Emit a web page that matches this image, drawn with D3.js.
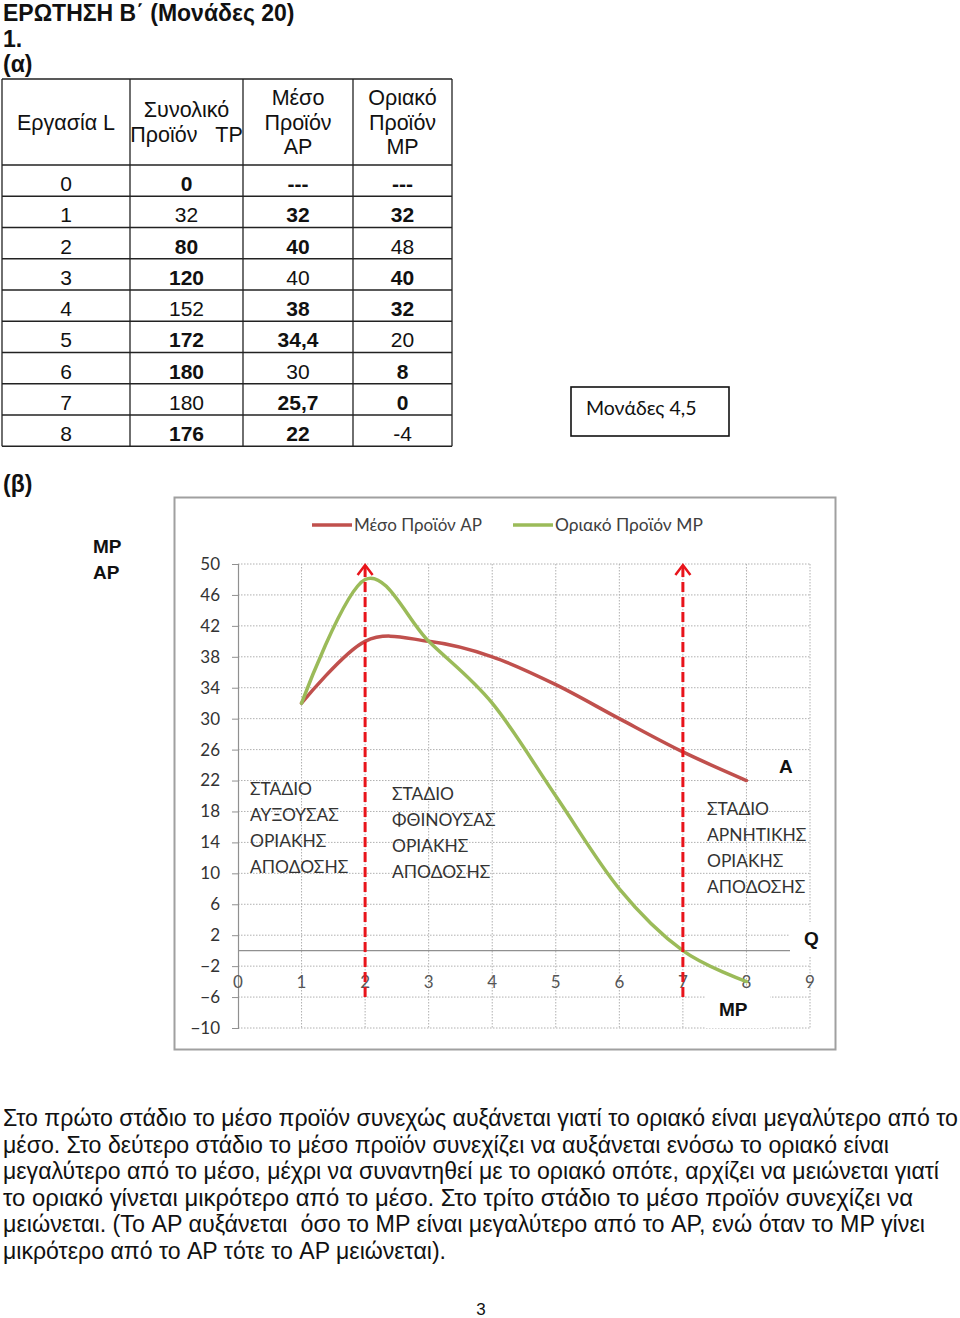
<!DOCTYPE html>
<html><head><meta charset="utf-8">
<script src="https://cdn.jsdelivr.net/npm/d3@7"></script>
<style>body{margin:0;background:#fff} svg{display:block}</style>
</head><body>
<svg id="c" width="960" height="1318"></svg>
<script>
// ---------- DATA ----------
const headers = [["Εργασία L"], ["Συνολικό", "Προϊόν   TP"], ["Μέσο", "Προϊόν", "AP"], ["Οριακό", "Προϊόν", "MP"]];
const laborCol = ["0", "1", "2", "3", "4", "5", "6", "7", "8"];
const tpCol = ["0", "32", "80", "120", "152", "172", "180", "180", "176"];
const apCol = ["---", "32", "40", "40", "38", "34,4", "30", "25,7", "22"];
const mpCol = ["---", "32", "48", "40", "32", "20", "8", "0", "-4"];
// bold formatting of table cells (per column)
const boldTP = [1, 0, 1, 1, 0, 1, 1, 0, 1];
const boldAP = [1, 1, 1, 0, 1, 1, 0, 1, 1];
const boldMP = [1, 1, 0, 1, 1, 0, 1, 1, 0];

const labor = [1, 2, 3, 4, 5, 6, 7, 8];
const apValues = [32, 40, 40, 38, 34.4, 30, 25.7, 22];
const mpValues = [32, 48, 40, 32, 20, 8, 0, -4];
const xTicks = [0, 1, 2, 3, 4, 5, 6, 7, 8, 9];
const yTicks = [50, 46, 42, 38, 34, 30, 26, 22, 18, 14, 10, 6, 2, -2, -6, -10];
const stageBounds = [2, 7];
const seriesNames = ["Μέσο Προϊόν AP", "Οριακό Προϊόν MP"];
const stageTexts = [
  ["ΣΤΑΔΙΟ", "ΑΥΞΟΥΣΑΣ", "ΟΡΙΑΚΗΣ", "ΑΠΟΔΟΣΗΣ"],
  ["ΣΤΑΔΙΟ", "ΦΘΙΝΟΥΣΑΣ", "ΟΡΙΑΚΗΣ", "ΑΠΟΔΟΣΗΣ"],
  ["ΣΤΑΔΙΟ", "ΑΡΝΗΤΙΚΗΣ", "ΟΡΙΑΚΗΣ", "ΑΠΟΔΟΣΗΣ"]
];
const paragraphLines = [
  "Στο πρώτο στάδιο το μέσο προϊόν συνεχώς αυξάνεται γιατί το οριακό είναι μεγαλύτερο από το",
  "μέσο. Στο δεύτερο στάδιο το μέσο προϊόν συνεχίζει να αυξάνεται ενόσω το οριακό είναι",
  "μεγαλύτερο από το μέσο, μέχρι να συναντηθεί με το οριακό οπότε, αρχίζει να μειώνεται γιατί",
  "το οριακό γίνεται μικρότερο από το μέσο. Στο τρίτο στάδιο το μέσο προϊόν συνεχίζει να",
  "μειώνεται. (Το AP αυξάνεται  όσο το MP είναι μεγαλύτερο από το AP, ενώ όταν το MP γίνει",
  "μικρότερο από το AP τότε το AP μειώνεται)."
];

// ---------- LAYOUT ----------
const svg = d3.select("#c");
const ARIAL = "'Liberation Sans', Arial, sans-serif";
const CAL = "Lato, 'Open Sans', sans-serif";
svg.append("rect").attr("width", 960).attr("height", 1318).attr("fill", "#fff");

// Titles
const titles = [["ΕΡΩΤΗΣΗ Β΄ (Μονάδες 20)", 20.5], ["1.", 47], ["(α)", 72], ["(β)", 492]];
titles.forEach(t => svg.append("text").attr("x", 3).attr("y", t[1]).attr("font-family", ARIAL)
  .attr("font-weight", "bold").attr("font-size", 23).attr("fill", "#111").text(t[0]));

// Table
const colX = [2, 130, 243, 353, 452];
const tTop = 79, hBottom = 165, rowH = 31.25;
const nRows = laborCol.length;
const tg = svg.append("g");
const tBottom = hBottom + rowH * nRows;
colX.forEach(x => tg.append("line").attr("x1", x).attr("x2", x).attr("y1", tTop).attr("y2", tBottom)
  .attr("stroke", "#222").attr("stroke-width", 1.3));
[tTop, hBottom].concat(d3.range(1, nRows + 1).map(i => hBottom + rowH * i)).forEach(y =>
  tg.append("line").attr("x1", colX[0]).attr("x2", colX[4]).attr("y1", y).attr("y2", y)
    .attr("stroke", "#222").attr("stroke-width", 1.3));
headers.forEach((lines, c) => {
  const cx = (colX[c] + colX[c + 1]) / 2;
  lines.forEach((t, j) => {
    const cy = 122 + (j - (lines.length - 1) / 2) * 24.5;
    tg.append("text").attr("x", cx).attr("y", cy + 7.5).attr("text-anchor", "middle")
      .attr("font-family", ARIAL).attr("font-size", 21.5).attr("fill", "#111")
      .style("white-space", "pre").text(t);
  });
});
const cols = [laborCol, tpCol, apCol, mpCol];
const bolds = [laborCol.map(() => 0), boldTP, boldAP, boldMP];
cols.forEach((col, c) => {
  const cx = (colX[c] + colX[c + 1]) / 2;
  col.forEach((t, r) => {
    const cy = hBottom + rowH * r + 18.5;
    tg.append("text").attr("x", cx).attr("y", cy + 7.5).attr("text-anchor", "middle")
      .attr("font-family", ARIAL).attr("font-size", 21).attr("fill", "#111")
      .attr("font-weight", bolds[c][r] ? "bold" : "normal").text(t);
  });
});

// Units box
svg.append("rect").attr("x", 571).attr("y", 387).attr("width", 158).attr("height", 49)
  .attr("fill", "none").attr("stroke", "#111").attr("stroke-width", 1.6);
svg.append("text").attr("x", 586).attr("y", 415).attr("font-family", CAL).attr("font-size", 19.5)
  .attr("fill", "#111").text("Μονάδες 4,5");

// ---------- CHART ----------
svg.append("rect").attr("x", 174.5).attr("y", 497.5).attr("width", 661).attr("height", 552)
  .attr("fill", "#fff").attr("stroke", "#a0a0a0").attr("stroke-width", 2);

const x = d3.scaleLinear().domain([0, 9]).range([238, 810]);
const y = d3.scaleLinear().domain([-10, 50]).range([1028, 564]);
const cg = svg.append("g");

// horizontal gridlines
yTicks.forEach(v => {
  cg.append("line").attr("x1", x(0)).attr("x2", x(9)).attr("y1", y(v)).attr("y2", y(v))
    .attr("stroke", "#b0b0b0").attr("stroke-width", 1).attr("stroke-dasharray", "1.5,1.5");
});
// vertical gridlines
xTicks.filter(v => v > 0).forEach(v => {
  cg.append("line").attr("x1", x(v)).attr("x2", x(v)).attr("y1", y(50)).attr("y2", y(-10))
    .attr("stroke", "#b0b0b0").attr("stroke-width", 1).attr("stroke-dasharray", "1.5,1.5");
});
// y axis
const yAxis = d3.axisLeft(y).tickValues(yTicks).tickSize(6).tickPadding(12).tickFormat(d3.format("d"));
const ya = cg.append("g").attr("transform", `translate(${x(0)},0)`).call(yAxis);
ya.select(".domain").attr("stroke", "#909090").attr("stroke-width", 1.2);
ya.selectAll(".tick line").attr("stroke", "#909090");
ya.selectAll(".tick text").attr("font-family", CAL).attr("font-size", 17).attr("fill", "#333");
// x axis line at zero
cg.append("line").attr("x1", x(0)).attr("x2", x(9)).attr("y1", y(0)).attr("y2", y(0))
  .attr("stroke", "#909090").attr("stroke-width", 1.4);
// x tick labels
xTicks.forEach(v => {
  cg.append("text").attr("x", x(v)).attr("y", y(-4) + 6).attr("text-anchor", "middle")
    .attr("font-family", CAL).attr("font-size", 17).attr("fill", "#555").text(v);
});

// white label boxes (text boxes cover the grid)
[[790, 922, 42, 34], [706, 990, 64, 38]].forEach(b =>
  cg.append("rect").attr("x", b[0]).attr("y", b[1]).attr("width", b[2]).attr("height", b[3]).attr("fill", "#fff"));

// curves
const line = d3.line().x((d, i) => x(labor[i])).y(d => y(d)).curve(d3.curveCardinal.tension(0));
cg.append("path").attr("d", line(apValues)).attr("fill", "none").attr("stroke", "#c0504d")
  .attr("stroke-width", 3.5).attr("stroke-linecap", "round");
cg.append("path").attr("d", line(mpValues)).attr("fill", "none").attr("stroke", "#9bbb59")
  .attr("stroke-width", 3.5).attr("stroke-linecap", "round");

// stage boundaries
stageBounds.forEach(v => {
  const top = y(50) + 1;
  cg.append("line").attr("x1", x(v)).attr("x2", x(v)).attr("y1", top + 2).attr("y2", y(-6))
    .attr("stroke", "#e8141b").attr("stroke-width", 3).attr("stroke-dasharray", "10,5");
  cg.append("path").attr("d", `M${x(v) - 7.5},${top + 10} L${x(v)},${top} L${x(v) + 7.5},${top + 10}`)
    .attr("fill", "none").attr("stroke", "#e8141b").attr("stroke-width", 2.5);
});

// legend
const legX = [312, 513];
const legColors = ["#c0504d", "#9bbb59"];
seriesNames.forEach((n, i) => {
  cg.append("line").attr("x1", legX[i]).attr("x2", legX[i] + 40).attr("y1", 525).attr("y2", 525)
    .attr("stroke", legColors[i]).attr("stroke-width", 3.5);
  cg.append("text").attr("x", legX[i] + 42).attr("y", 531).attr("font-family", CAL)
    .attr("font-size", i === 0 ? 17 : 17.4).attr("fill", "#404040").text(n);
});

// stage texts
const stagePos = [[250, 788], [392, 793], [707, 808]];
stageTexts.forEach((lines, s) => {
  lines.forEach((t, j) => {
    cg.append("text").attr("x", stagePos[s][0]).attr("y", stagePos[s][1] + j * 26 + 6.5)
      .attr("font-family", CAL).attr("font-size", 17.4).attr("fill", "#333").text(t);
  });
});

// bold axis letters
const boldLabels = [["MP", 93, 546], ["AP", 93, 572], ["A", 779, 766], ["Q", 804, 938], ["MP", 719, 1009]];
boldLabels.forEach(b => svg.append("text").attr("x", b[1]).attr("y", b[2] + 6.8)
  .attr("font-family", ARIAL).attr("font-weight", "bold").attr("font-size", 19).attr("fill", "#111").text(b[0]));

// ---------- PARAGRAPH ----------
const paraWidths = [955, 886, 936, 910, 922, 443];
paragraphLines.forEach((t, i) => {
  svg.append("text").attr("x", 3).attr("y", 1126 + i * 26.5).attr("font-family", ARIAL)
    .attr("font-size", 23).attr("fill", "#111").attr("textLength", paraWidths[i])
    .attr("lengthAdjust", "spacingAndGlyphs").style("white-space", "pre").text(t);
});
svg.append("text").attr("x", 481).attr("y", 1315).attr("text-anchor", "middle").attr("font-family", ARIAL)
  .attr("font-size", 17).attr("fill", "#111").text("3");
</script></body></html>
